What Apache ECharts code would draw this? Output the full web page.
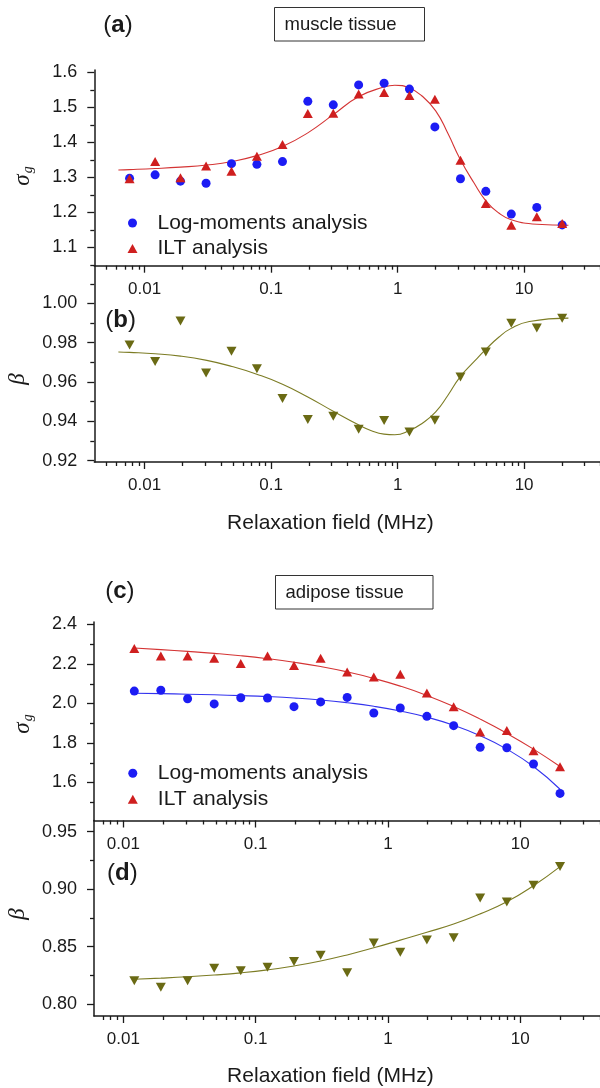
<!DOCTYPE html>
<html>
<head>
<meta charset="utf-8">
<script src="https://cdn.jsdelivr.net/npm/echarts@6/dist/echarts.min.js"></script>
<style>
  html, body { margin: 0; padding: 0; background: #ffffff; }
  #chart { width: 600px; height: 1088px; }
</style>
</head>
<body>
<div id="chart"></div>
<script>
// ---- Muscle tissue: relaxation fields (MHz) and fitted parameters ----
const fieldsMuscle = [0.0076, 0.0121, 0.0192, 0.0306, 0.0486, 0.0772, 0.123, 0.195, 0.31, 0.492, 0.782, 1.24, 1.97, 3.14, 4.98, 7.92, 12.6, 20];
const muscleLogMoments = [1.297, 1.307, 1.289, 1.283, 1.339, 1.337, 1.345, 1.517, 1.507, 1.564, 1.569, 1.552, 1.444, 1.296, 1.260, 1.195, 1.214, 1.164];
const muscleILT = [1.296, 1.345, 1.299, 1.332, 1.317, 1.360, 1.394, 1.482, 1.483, 1.538, 1.542, 1.534, 1.523, 1.349, 1.225, 1.163, 1.187, 1.168];
const muscleBeta = [0.9789, 0.9704, 0.9911, 0.9646, 0.9757, 0.9668, 0.9516, 0.9409, 0.9426, 0.9360, 0.9404, 0.9346, 0.9406, 0.9626, 0.9753, 0.9899, 0.9875, 0.9925];

// guide curves for muscle tissue (sampled along the drawn fits)
const muscleSigmaFitField = [0.0062, 0.0076, 0.0121, 0.0192, 0.031, 0.049, 0.077, 0.123, 0.195, 0.31, 0.49, 0.78, 0.95, 1.24, 1.55, 2.0, 2.5, 3.1, 4.0, 5.0, 6.3, 7.9, 12.6, 22.4];
const muscleSigmaFit = [1.321, 1.322, 1.325, 1.329, 1.335, 1.345, 1.362, 1.388, 1.427, 1.479, 1.530, 1.558, 1.563, 1.555, 1.533, 1.490, 1.425, 1.354, 1.285, 1.232, 1.198, 1.179, 1.166, 1.163];
const muscleBetaFitField = [0.0062, 0.0076, 0.0121, 0.0192, 0.031, 0.049, 0.077, 0.123, 0.195, 0.31, 0.49, 0.62, 0.78, 0.95, 1.24, 1.55, 2.0, 2.5, 3.1, 4.0, 5.0, 6.3, 7.9, 11, 22.4];
const muscleBetaFit = [0.9753, 0.9751, 0.9744, 0.9732, 0.9710, 0.9679, 0.9640, 0.9589, 0.9524, 0.9451, 0.9382, 0.9352, 0.9335, 0.9332, 0.9353, 0.9388, 0.9448, 0.9533, 0.9624, 0.9702, 0.9767, 0.9828, 0.9873, 0.9908, 0.9925];

// ---- Adipose tissue ----
const fieldsAdipose = [0.0121, 0.0192, 0.0306, 0.0486, 0.0772, 0.123, 0.195, 0.31, 0.492, 0.782, 1.24, 1.97, 3.14, 4.98, 7.92, 12.6, 20];
const adiposeLogMoments = [2.063, 2.067, 2.024, 1.998, 2.029, 2.028, 1.984, 2.008, 2.031, 1.952, 1.977, 1.935, 1.888, 1.778, 1.776, 1.694, 1.545];
const adiposeILT = [2.278, 2.241, 2.241, 2.229, 2.202, 2.241, 2.193, 2.229, 2.160, 2.134, 2.148, 2.053, 1.984, 1.856, 1.864, 1.761, 1.680];
const adiposeBeta = [0.8204, 0.8147, 0.8204, 0.8312, 0.8291, 0.8321, 0.8370, 0.8425, 0.8274, 0.8532, 0.8451, 0.8558, 0.8578, 0.8923, 0.8889, 0.9034, 0.9196];
const adiposeLogMomentsFit = [2.052, 2.050, 2.047, 2.044, 2.040, 2.035, 2.028, 2.018, 2.004, 1.986, 1.962, 1.931, 1.890, 1.837, 1.769, 1.681, 1.566];
const adiposeILTFit = [2.281, 2.273, 2.264, 2.254, 2.242, 2.227, 2.209, 2.187, 2.160, 2.127, 2.088, 2.041, 1.985, 1.921, 1.849, 1.769, 1.681];
const adiposeBetaFit = [0.8216, 0.8226, 0.8238, 0.8253, 0.8272, 0.8298, 0.8332, 0.8375, 0.8428, 0.8490, 0.8557, 0.8625, 0.8697, 0.8785, 0.8890, 0.9030, 0.9196];

// ---- Tick values and labels ----
const fieldTickValues = [0.01, 0.1, 1, 10];
const fieldTickLabels = ['0.01', '0.1', '1', '10'];
const fieldMinorSteps = [2, 3, 4, 5, 6, 7, 8, 9];
const fieldDecades = [0.001, 0.01, 0.1, 1, 10];

const sigmaMuscleTicks = [1.1, 1.2, 1.3, 1.4, 1.5, 1.6];
const sigmaMuscleLabels = ['1.1', '1.2', '1.3', '1.4', '1.5', '1.6'];
const sigmaMuscleMinor = [1.05, 1.15, 1.25, 1.35, 1.45, 1.55];
const betaMuscleTicks = [0.92, 0.94, 0.96, 0.98, 1.00];
const betaMuscleLabels = ['0.92', '0.94', '0.96', '0.98', '1.00'];
const betaMuscleMinor = [0.93, 0.95, 0.97, 0.99, 1.01];
const sigmaAdiposeTicks = [1.6, 1.8, 2.0, 2.2, 2.4];
const sigmaAdiposeLabels = ['1.6', '1.8', '2.0', '2.2', '2.4'];
const sigmaAdiposeMinor = [1.5, 1.7, 1.9, 2.1, 2.3];
const betaAdiposeTicks = [0.80, 0.85, 0.90, 0.95];
const betaAdiposeLabels = ['0.80', '0.85', '0.90', '0.95'];
const betaAdiposeMinor = [0.825, 0.875, 0.925];

const FONT = '"Liberation Sans", Arial, Helvetica, sans-serif';
const SERIF = '"Liberation Serif", "Times New Roman", serif';
const INK = '#1a1a1a';
const BLUE = '#1c1cf4';
const RED = '#cf1f1f';
const OLIVE = '#6a6a14';
const BLUE_LINE = '#3434ee';
const RED_LINE = '#d43434';
const OLIVE_LINE = '#7c7c24';

const pairs = (xs, ys) => xs.map((x, i) => [x, ys[i]]);
const labelFor = (values, labels) => v => {
  const i = values.findIndex(t => Math.abs(t - v) < 1e-6);
  return i < 0 ? '' : labels[i];
};

const panels = [
  { grid: { left: 94.3, top: 70, width: 556.3, height: 195.7 }, x: [0.004, 100], y: [1.0475, 1.6066],
    ticks: sigmaMuscleTicks, labels: sigmaMuscleLabels, minor: sigmaMuscleMinor },
  { grid: { left: 94.3, top: 265.7, width: 556.3, height: 196.3 }, x: [0.004, 100], y: [0.9193, 1.0192],
    ticks: betaMuscleTicks, labels: betaMuscleLabels, minor: betaMuscleMinor },
  { grid: { left: 94, top: 622, width: 558.5, height: 198.5 }, x: [0.006, 100], y: [1.4077, 2.4127],
    ticks: sigmaAdiposeTicks, labels: sigmaAdiposeLabels, minor: sigmaAdiposeMinor },
  { grid: { left: 94, top: 820.5, width: 558.5, height: 195.5 }, x: [0.006, 100], y: [0.7897, 0.9597],
    ticks: betaAdiposeTicks, labels: betaAdiposeLabels, minor: betaAdiposeMinor }
];

const axisLineStyle = { color: INK, width: 1.5 };
const tickLineStyle = { color: INK, width: 1.3 };
const grids = [], xAxes = [], yAxes = [];

panels.forEach((p, gi) => {
  grids.push(Object.assign({ containLabel: false, outerBoundsMode: 'none' }, p.grid));
  const lo = Math.log10(p.x[0]), hi = Math.log10(p.x[1]);
  const majorLog = fieldTickValues.map(v => Math.log10(v));
  const minorLog = [];
  fieldDecades.forEach(d => fieldMinorSteps.forEach(k => {
    const v = Math.log10(k * d);
    if (v > lo && v < hi) minorLog.push(v);
  }));
  // data axis (logarithmic field scale)
  xAxes.push({
    type: 'log', logBase: 10, gridIndex: gi, min: p.x[0], max: p.x[1], position: 'bottom',
    axisLine: { show: true, onZero: false, lineStyle: axisLineStyle },
    axisTick: { show: false }, axisLabel: { show: false }, splitLine: { show: false }
  });
  // decade ticks and labels
  xAxes.push({
    type: 'value', gridIndex: gi, min: lo, max: hi, position: 'bottom',
    axisLine: { show: false, onZero: false },
    axisTick: { show: true, length: 7, customValues: majorLog, lineStyle: tickLineStyle },
    axisLabel: { show: true, customValues: majorLog, margin: 15, fontSize: 17, color: INK, fontFamily: FONT,
      formatter: labelFor(majorLog, fieldTickLabels) },
    splitLine: { show: false }
  });
  // intra-decade ticks
  xAxes.push({
    type: 'value', gridIndex: gi, min: lo, max: hi, position: 'bottom',
    axisLine: { show: false, onZero: false },
    axisTick: { show: true, length: 4, customValues: minorLog, lineStyle: tickLineStyle },
    axisLabel: { show: false }, splitLine: { show: false }
  });
  yAxes.push({
    type: 'value', gridIndex: gi, min: p.y[0], max: p.y[1], position: 'left',
    axisLine: { show: true, onZero: false, lineStyle: axisLineStyle },
    axisTick: { show: true, length: 7, customValues: p.ticks, lineStyle: tickLineStyle },
    axisLabel: { show: true, customValues: p.ticks, margin: 17, fontSize: 18, color: INK, fontFamily: FONT,
      formatter: labelFor(p.ticks, p.labels) },
    splitLine: { show: false }
  });
  yAxes.push({
    type: 'value', gridIndex: gi, min: p.y[0], max: p.y[1], position: 'left',
    axisLine: { show: false, onZero: false },
    axisTick: { show: true, length: 4, customValues: p.minor, lineStyle: tickLineStyle },
    axisLabel: { show: false }, splitLine: { show: false }
  });
});

const fit = (gi, name, xs, ys, color) => ({
  type: 'line', name, xAxisIndex: gi * 3, yAxisIndex: gi * 2, data: pairs(xs, ys),
  smooth: 0.5, symbol: 'none', silent: true, z: 2,
  lineStyle: { color, width: 1.1 }
});
const circles = (gi, xs, ys) => ({
  type: 'scatter', name: 'Log-moments analysis', xAxisIndex: gi * 3, yAxisIndex: gi * 2,
  data: pairs(xs, ys), symbol: 'circle', symbolSize: 9, itemStyle: { color: BLUE, opacity: 1 }, z: 3, silent: true
});
const upTriangles = (gi, xs, ys) => ({
  type: 'scatter', name: 'ILT analysis', xAxisIndex: gi * 3, yAxisIndex: gi * 2,
  data: pairs(xs, ys), symbol: 'triangle', symbolSize: [10, 9], itemStyle: { color: RED, opacity: 1 }, z: 4, silent: true
});
const downTriangles = (gi, xs, ys) => ({
  type: 'scatter', name: 'β', xAxisIndex: gi * 3, yAxisIndex: gi * 2,
  data: pairs(xs, ys), symbol: 'triangle', symbolRotate: 180, symbolSize: [10, 9],
  itemStyle: { color: OLIVE, opacity: 1 }, z: 4, silent: true
});

const series = [
  fit(0, 'σg fit', muscleSigmaFitField, muscleSigmaFit, RED_LINE),
  circles(0, fieldsMuscle, muscleLogMoments),
  upTriangles(0, fieldsMuscle, muscleILT),
  fit(1, 'β fit', muscleBetaFitField, muscleBetaFit, OLIVE_LINE),
  downTriangles(1, fieldsMuscle, muscleBeta),
  fit(2, 'σg fit (log-moments)', fieldsAdipose, adiposeLogMomentsFit, BLUE_LINE),
  fit(2, 'σg fit (ILT)', fieldsAdipose, adiposeILTFit, RED_LINE),
  circles(2, fieldsAdipose, adiposeLogMoments),
  upTriangles(2, fieldsAdipose, adiposeILT),
  fit(3, 'β fit', fieldsAdipose, adiposeBetaFit, OLIVE_LINE),
  downTriangles(3, fieldsAdipose, adiposeBeta)
];

const legendBase = {
  orient: 'vertical', padding: 0, itemWidth: 10, itemHeight: 9, selectedMode: false,
  textStyle: { fontSize: 21, color: INK, fontFamily: FONT, padding: [0, 0, 0, 15] },
  data: [{ name: 'Log-moments analysis', icon: 'circle' }, { name: 'ILT analysis', icon: 'triangle' }]
};
const legends = [
  Object.assign({}, legendBase, { left: 127.5, top: 212.5, itemGap: 4.5 }),
  Object.assign({}, legendBase, { left: 127.8, top: 762.8, itemGap: 5 })
];

const panelTag = (letter, x, y) => ({
  type: 'text', x, y, silent: true,
  style: {
    text: '{p|(}{b|' + letter + '}{p|)}', align: 'left', verticalAlign: 'middle',
    rich: {
      p: { fontSize: 24, fontFamily: FONT, fill: INK },
      b: { fontSize: 24, fontFamily: FONT, fontWeight: 'bold', fill: INK }
    }
  }
});
const tissueBox = (label, x, y, w, h) => ({
  type: 'group', silent: true,
  children: [
    { type: 'rect', shape: { x, y, width: w, height: h }, style: { fill: '#ffffff', stroke: '#333333', lineWidth: 1 } },
    { type: 'text', x: x + 10, y: y + h / 2 + 1, style: { text: label, fontSize: 18.5, fontFamily: FONT, fill: INK, align: 'left', verticalAlign: 'middle' } }
  ]
});
const sigmaName = (x, y) => ({
  type: 'text', x, y, rotation: Math.PI / 2, silent: true,
  style: {
    text: '{s|σ}{g|g}', align: 'center', verticalAlign: 'middle',
    rich: {
      s: { fontSize: 23, fontStyle: 'italic', fontFamily: SERIF, fill: INK },
      g: { fontSize: 14, fontStyle: 'italic', fontFamily: SERIF, fill: INK, padding: [10, 0, 0, 1] }
    }
  }
});
const betaName = (x, y) => ({
  type: 'text', x, y, rotation: Math.PI / 2, silent: true,
  style: { text: 'β', fontSize: 23, fontStyle: 'italic', fontFamily: SERIF, fill: INK, align: 'center', verticalAlign: 'middle' }
});
const fieldTitle = (y) => ({
  type: 'text', x: 330.4, y, silent: true,
  style: { text: 'Relaxation field (MHz)', fontSize: 21, fontFamily: FONT, fill: INK, align: 'center', verticalAlign: 'middle' }
});

const chart = echarts.init(document.getElementById('chart'), null, { renderer: 'canvas' });
chart.setOption({
  animation: false,
  backgroundColor: '#ffffff',
  grid: grids,
  xAxis: xAxes,
  yAxis: yAxes,
  legend: legends,
  series,
  graphic: [
    panelTag('a', 103.3, 25.7),
    panelTag('b', 105.3, 320.5),
    panelTag('c', 105.2, 591),
    panelTag('d', 107, 873.5),
    tissueBox('muscle tissue', 274.5, 7.5, 150, 33.5),
    tissueBox('adipose tissue', 275.5, 575.5, 157.5, 33.5),
    sigmaName(23, 176),
    betaName(18, 379),
    sigmaName(23, 724),
    betaName(18, 914),
    fieldTitle(523.3),
    fieldTitle(1076.7)
  ]
});
</script>
</body>
</html>
